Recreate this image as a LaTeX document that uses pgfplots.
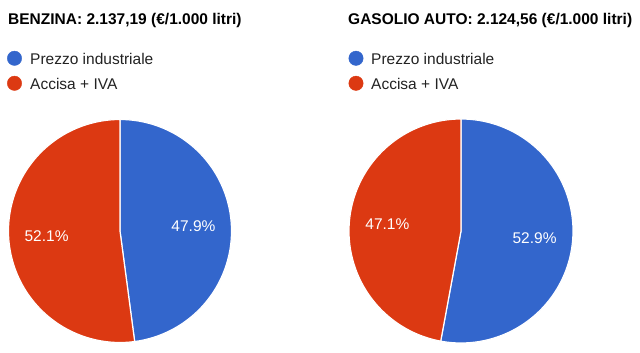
\documentclass[border=0pt]{standalone}
\usepackage{pgfplots}
\pgfplotsset{compat=1.18}
\usepackage{fontspec}
\setmainfont{Liberation Sans}
\definecolor{gblue}{HTML}{3366CC}
\definecolor{gred}{HTML}{DC3912}
\definecolor{gtext}{HTML}{222222}
% percentages: Prezzo industriale, Accisa + IVA
\pgfmathsetmacro{\pBenz}{47.9}
\pgfmathsetmacro{\pGas}{52.9}
\pgfmathsetmacro{\aB}{90-3.6*\pBenz}
\pgfmathsetmacro{\aG}{90-3.6*\pGas}
\pgfmathsetmacro{\mBb}{(90+\aB)/2}
\pgfmathsetmacro{\mBr}{(\aB-270)/2}
\pgfmathsetmacro{\mGb}{(90+\aG)/2}
\pgfmathsetmacro{\mGr}{(\aG-270)/2}
\begin{document}
\begin{tikzpicture}
\begin{axis}[width=640pt,height=353pt,scale only axis,
  xmin=0,xmax=640,ymin=0,ymax=353,hide axis,clip=false]
% canvas extent (invisible)
\path (axis cs:0,0) rectangle (axis cs:640,353);
% left pie
\addplot[fill=gblue,draw=white,line width=1.2pt,domain=\aB:90,samples=150,variable=\t]
  ({120+111.5*cos(\t)},{122+111.5*sin(\t)}) -- (axis cs:120,122) -- cycle;
\addplot[fill=gred,draw=white,line width=1.2pt,domain=-270:\aB,samples=150,variable=\t]
  ({120+111.5*cos(\t)},{122+111.5*sin(\t)}) -- (axis cs:120,122) -- cycle;
% right pie
\addplot[fill=gblue,draw=white,line width=1.2pt,domain=\aG:90,samples=150,variable=\t]
  ({461+112*cos(\t)},{122+112*sin(\t)}) -- (axis cs:461,122) -- cycle;
\addplot[fill=gred,draw=white,line width=1.2pt,domain=-270:\aG,samples=150,variable=\t]
  ({461+112*cos(\t)},{122+112*sin(\t)}) -- (axis cs:461,122) -- cycle;
% legend markers
\addplot[only marks,mark=*,mark size=7.2pt,color=gblue] coordinates {(14.5,294.7) (356,294.7)};
\addplot[only marks,mark=*,mark size=7.2pt,color=gred] coordinates {(14.5,269.7) (356,269.7)};
% texts
\tikzset{every node/.style={font=\fontsize{15.5}{18}\selectfont,inner sep=0pt}}
\node[anchor=base west,font=\fontsize{15.5}{18}\selectfont\bfseries] at (axis cs:8,328) {BENZINA: 2.137,19 (€/1.000 litri)};
\node[anchor=base west,font=\fontsize{15.5}{18}\selectfont\bfseries] at (axis cs:348,328) {GASOLIO AUTO: 2.124,56 (€/1.000 litri)};
\node[anchor=base west,text=gtext] at (axis cs:30,288.7) {Prezzo industriale};
\node[anchor=base west,text=gtext] at (axis cs:30,263.7) {Accisa + IVA};
\node[anchor=base west,text=gtext] at (axis cs:371,288.7) {Prezzo industriale};
\node[anchor=base west,text=gtext] at (axis cs:371,263.7) {Accisa + IVA};
\node[text=white] at (axis cs:{120+73.6*cos(\mBb)},{122+73.6*sin(\mBb)}) {47.9\%};
\node[text=white] at (axis cs:{120+73.6*cos(\mBr)},{122+73.6*sin(\mBr)}) {52.1\%};
\node[text=white] at (axis cs:{461+73.9*cos(\mGb)},{122+73.9*sin(\mGb)}) {52.9\%};
\node[text=white] at (axis cs:{461+73.9*cos(\mGr)},{122+73.9*sin(\mGr)}) {47.1\%};
\end{axis}
\end{tikzpicture}
\end{document}
